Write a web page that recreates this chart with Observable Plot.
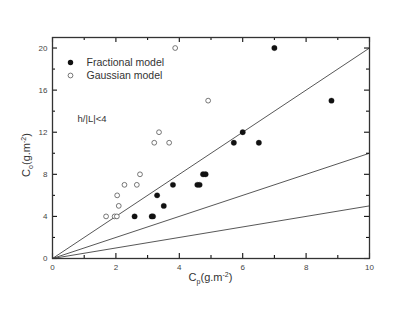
<!DOCTYPE html>
<html><head><meta charset="utf-8">
<script src="https://cdn.jsdelivr.net/npm/d3@7"></script>
<script src="https://cdn.jsdelivr.net/npm/@observablehq/plot@0.6"></script>
<style>body{margin:0;background:#fff;overflow:hidden} svg{font-family:"Liberation Sans",Arial,sans-serif}</style>
</head><body><div id="chart"></div><script>
// Fractional model (filled)
const fracX = [7.0, 8.8, 6.0, 5.72, 6.51, 4.75, 4.83, 4.57, 4.64, 3.8, 3.3, 3.51, 2.59, 3.13, 3.17];
const fracY = [20, 15, 12, 11, 11, 8, 8, 7, 7, 7, 6, 5, 4, 4, 4];
// Gaussian model (open)
const gaussX = [3.87, 4.91, 3.36, 3.21, 3.68, 2.76, 2.27, 2.66, 2.04, 2.09, 1.69, 1.96, 2.03];
const gaussY = [20, 15, 12, 11, 11, 8, 7, 7, 6, 5, 4, 4, 4];
// reference lines y = k x
const slopes = [2, 1, 0.5];
const xMajor = [0, 2, 4, 6, 8, 10];
const xMinor = [1, 3, 5, 7, 9];
const yMajor = [0, 4, 8, 12, 16, 20];
const yMinor = [2, 6, 10, 14, 18];
const legendLabels = ["Fractional model", "Gaussian model"];
const note = "h/|L|<4";

const frac = fracX.map((x, i) => ({x, y: fracY[i]}));
const gauss = gaussX.map((x, i) => ({x, y: gaussY[i]}));
const lineTable = slopes.flatMap(s => [{x: 0, y: 0, s}, {x: 10, y: 10 * s, s}]);

const W = 407, H = 312, mL = 52, mR = 38, mT = 37, mB = 54;
const fh = H - mT - mB, fw = W - mL - mR;
const maj = 5, mnr = 3;
const tc = "#111", tw = 1.1;

const chart = Plot.plot({
  width: W, height: H,
  marginLeft: mL, marginRight: mR, marginTop: mT, marginBottom: mB,
  style: {fontFamily: '"Liberation Sans",Arial,sans-serif', fontSize: "8px", color: "#444", background: "#fff"},
  x: {domain: [0, 10]},
  y: {domain: [0, 21]},
  marks: [
    Plot.line(lineTable, {x: "x", y: "y", z: "s", stroke: "#444", strokeWidth: 0.9}),
    Plot.dot(gauss, {x: "x", y: "y", r: 2.4, stroke: "#555", strokeWidth: 0.8, fill: "white"}),
    Plot.dot(frac, {x: "x", y: "y", r: 2.7, fill: "#111", stroke: "#111", strokeWidth: 0.3}),
    // inward ticks: bottom & top
    Plot.tickX(xMajor, {x: d => d, insetTop: fh - maj, stroke: tc, strokeWidth: tw}),
    Plot.tickX(xMinor, {x: d => d, insetTop: fh - mnr, stroke: tc, strokeWidth: tw}),
    Plot.tickX(xMajor, {x: d => d, insetBottom: fh - maj, stroke: tc, strokeWidth: tw}),
    Plot.tickX(xMinor, {x: d => d, insetBottom: fh - mnr, stroke: tc, strokeWidth: tw}),
    // inward ticks: left & right
    Plot.tickY(yMajor, {y: d => d, insetRight: fw - maj, stroke: tc, strokeWidth: tw}),
    Plot.tickY(yMinor, {y: d => d, insetRight: fw - mnr, stroke: tc, strokeWidth: tw}),
    Plot.tickY(yMajor, {y: d => d, insetLeft: fw - maj, stroke: tc, strokeWidth: tw}),
    Plot.tickY(yMinor, {y: d => d, insetLeft: fw - mnr, stroke: tc, strokeWidth: tw}),
    Plot.frame({stroke: "#333", strokeWidth: 1.3}),
    Plot.axisX(xMajor, {tickSize: 0, tickPadding: 6, label: null, fill: "#444"}),
    Plot.axisY(yMajor, {tickSize: 0, tickPadding: 5, label: null, fill: "#444"}),
    // legend
    Plot.dot([0], {frameAnchor: "top-left", dx: 18, dy: 25, r: 2.7, fill: "#111"}),
    Plot.dot([0], {frameAnchor: "top-left", dx: 18, dy: 38, r: 2.4, stroke: "#555", strokeWidth: 0.8, fill: "white"}),
    Plot.text([legendLabels[0]], {frameAnchor: "top-left", dx: 34, dy: 25, lineAnchor: "middle", text: d => d, textAnchor: "start", fontSize: 10.5, fill: "#333"}),
    Plot.text([legendLabels[1]], {frameAnchor: "top-left", dx: 34, dy: 38, lineAnchor: "middle", text: d => d, textAnchor: "start", fontSize: 10.5, fill: "#333"}),
    Plot.text([note], {frameAnchor: "top-left", dx: 25, dy: 81, lineAnchor: "middle", text: d => d, textAnchor: "start", fontSize: 9.5, fill: "#333"})
  ]
});
document.getElementById("chart").append(chart);

const svg = d3.select(chart);
const xs = chart.scale("x");
const cx = (xs.apply(0) + xs.apply(10)) / 2;
function label(g, main, sub) {
  g.append("tspan").text("C");
  g.append("tspan").attr("font-size", 7).attr("dy", 3).text(sub);
  g.append("tspan").attr("dy", -3).text("(g.m");
  g.append("tspan").attr("font-size", 7).attr("dy", -4).text("-2");
  g.append("tspan").attr("dy", 4).text(")");
}
const xl = svg.append("text").attr("x", cx).attr("y", 281).attr("text-anchor", "middle")
  .attr("font-size", 11).attr("fill", "#333");
label(xl, "C", "p");
const yl = svg.append("text").attr("transform", `translate(30,155) rotate(-90)`).attr("text-anchor", "middle")
  .attr("font-size", 11).attr("fill", "#333");
label(yl, "C", "o");
</script></body></html>
